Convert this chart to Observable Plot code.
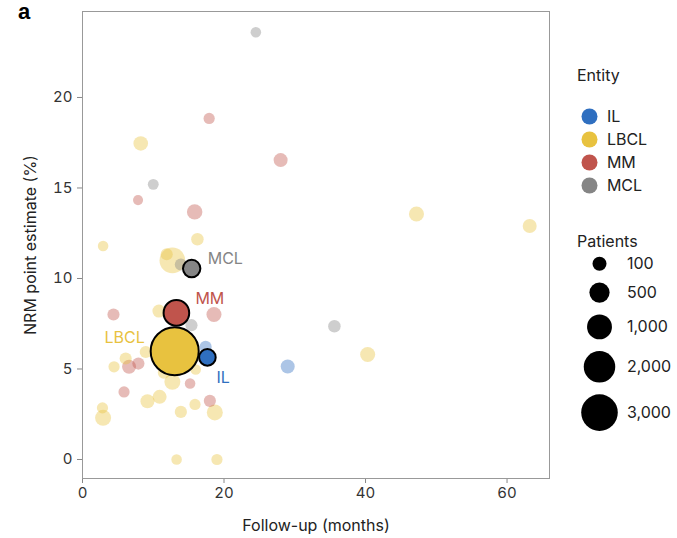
<!DOCTYPE html>
<html><head><meta charset="utf-8">
<script src="https://cdn.jsdelivr.net/npm/d3@7"></script>
<script src="https://cdn.jsdelivr.net/npm/@observablehq/plot@0.6"></script>
<style>
body{margin:0;background:#fff;font-family:Inter, "DejaVu Sans", sans-serif;}
#wrap{position:relative;width:677px;height:538px;overflow:hidden;}
#main{position:absolute;left:0;top:0;}
.leg{position:absolute;left:560px;top:0;}
.ttl{position:absolute;left:577px;font-size:16px;color:#222;line-height:18px;}
#tag{position:absolute;left:18px;top:0px;font:bold 22px "Liberation Sans", Arial, sans-serif;color:#000;line-height:24px;}
#main g[aria-label="x-axis label"], #main g[aria-label="y-axis label"]{font-size:16px;fill:#222;}
</style></head><body>
<div id="wrap">
  <div id="main"></div>
  <div id="legC" class="leg"></div>
  <div id="legS" class="leg"></div>
  <div class="ttl" style="top:66px">Entity</div>
  <div class="ttl" style="top:232px">Patients</div>
  <div id="tag">a</div>
</div>
<script>
// ---- data ----
const entities = ["IL", "LBCL", "MM", "MCL"];
const entityColors = ["#2f6fc0", "#e8c23f", "#c0544c", "#858585"];

// individual studies (faded)
const lbclFollowUp = [8.23, 2.91, 11.9, 12.7, 16.24, 47.2, 63.2, 40.3, 10.8, 8.94, 6.1, 4.46, 12.7, 16.0, 9.18, 10.9, 2.82, 2.91, 13.9, 15.9, 18.7, 13.3, 19.0, 11.5];
const lbclNRM      = [17.46, 11.8, 11.34, 11.0, 12.17, 13.56, 12.9, 5.8, 8.2, 5.94, 5.58, 5.12, 4.29, 4.97, 3.22, 3.46, 2.85, 2.3, 2.63, 3.04, 2.6, 0, 0, 4.8];
const lbclPatients = [125, 10, 40, 1100, 50, 145, 100, 145, 65, 40, 40, 20, 195, 10, 100, 100, 20, 195, 40, 20, 195, 10, 20, 40];

const mmFollowUp = [17.9, 7.85, 15.85, 28.0, 4.38, 18.58, 6.58, 7.9, 15.2, 5.87, 18.0];
const mmNRM      = [18.84, 14.33, 13.68, 16.54, 8.01, 8.01, 5.12, 5.3, 4.2, 3.73, 3.24];
const mmPatients = [20, 5, 165, 100, 40, 145, 100, 40, 10, 20, 40];

const mclFollowUp = [24.5, 10.0, 13.9, 35.6, 15.4];
const mclNRM      = [23.6, 15.2, 10.77, 7.36, 7.42];
const mclPatients = [10, 15, 40, 50, 40];

const ilFollowUp = [29.0, 17.4];
const ilNRM      = [5.14, 6.22];
const ilPatients = [100, 40];

// pooled estimates (highlighted)
const pooledEntity   = ["MCL", "MM", "LBCL", "IL"];
const pooledFollowUp = [15.43, 13.27, 13.03, 17.65];
const pooledNRM      = [10.55, 8.1, 5.98, 5.64];
const pooledPatients = [280, 1090, 6000, 230];

const patientTicks = [100, 500, 1000, 2000, 3000];
const xTicks = [0, 20, 40, 60];
const yTicks = [0, 5, 10, 15, 20];

// ---- tables ----
function rows(entity, xs, ys, ns) { return xs.map((x, i) => ({entity, followUp: x, nrm: ys[i], patients: ns[i]})); }
const studies = [
  ...rows("LBCL", lbclFollowUp, lbclNRM, lbclPatients),
  ...rows("MM", mmFollowUp, mmNRM, mmPatients),
  ...rows("MCL", mclFollowUp, mclNRM, mclPatients),
  ...rows("IL", ilFollowUp, ilNRM, ilPatients)
];
const pooled = pooledEntity.map((e, i) => ({entity: e, followUp: pooledFollowUp[i], nrm: pooledNRM[i], patients: pooledPatients[i]}));

const colorScale = {domain: entities, range: entityColors};
const rScale = {type: "sqrt", domain: [100, 3000], range: [7, 18.3]};

const labelStyle = {
  MCL: {dx: 16, dy: -10, textAnchor: "start"},
  MM: {dx: 19, dy: -14, textAnchor: "start"},
  LBCL: {dx: -30, dy: -13.5, textAnchor: "end"},
  IL: {dx: 9, dy: 20, textAnchor: "start"}
};
const labelMarks = pooledEntity.map((e, i) => Plot.text(pooled.filter(d => d.entity === e), {
  x: "followUp", y: "nrm", text: "entity", fill: entityColors[entities.indexOf(e)],
  fontSize: 16, ...labelStyle[e]
}));

const main = Plot.plot({
  width: 560, height: 538,
  marginLeft: 82, marginRight: 11, marginTop: 11, marginBottom: 60,
  style: {fontFamily: "Inter, 'DejaVu Sans', sans-serif", fontSize: "15px", color: "#222", background: "white"},
  x: {domain: [0, 66]},
  y: {domain: [-1.05, 24.75]},
  color: colorScale,
  r: rScale,
  marks: [
    Plot.axisX({ticks: xTicks, tickSize: 5, tickPadding: 4, stroke: "#888", fill: "#333", fontSize: 15,
      label: "Follow-up (months)", labelAnchor: "center", labelOffset: 52, labelArrow: "none"}),
    Plot.axisY({ticks: yTicks, tickSize: 5, tickPadding: 5, stroke: "#888", fill: "#333", fontSize: 15,
      label: "NRM point estimate (%)", labelAnchor: "center", labelOffset: 58, labelArrow: "none"}),
    Plot.frame({stroke: "#999"}),
    Plot.dot(studies, {x: "followUp", y: "nrm", r: "patients", fill: "entity", fillOpacity: 0.4}),
    Plot.dot(pooled, {x: "followUp", y: "nrm", r: "patients", fill: "entity", stroke: "black", strokeWidth: 2}),
    ...labelMarks
  ]
});
document.getElementById("main").appendChild(main);

// ---- legends ----
const legC = Plot.plot({
  width: 117, height: 538, margin: 0,
  style: {fontFamily: "Inter, 'DejaVu Sans', sans-serif", fontSize: "16px", color: "#222", background: "transparent"},
  x: {type: "point", domain: ["key"], range: [29.3, 29.3], axis: null},
  y: {type: "point", domain: entities, range: [104.3, 196.7], axis: null},
  color: colorScale,
  marks: [
    Plot.dot(entities, {x: () => "key", y: d => d, fill: d => d, r: 8}),
    Plot.text(entities, {x: () => "key", y: d => d, text: d => d, dx: 17.4, textAnchor: "start", fontSize: 16, fill: "#222"})
  ]
});
document.getElementById("legC").appendChild(legC);

const rs = Plot.scale({r: rScale});
let acc = 0, prevR = 0;
const sizeKeys = patientTicks.map((p, i) => {
  const r = rs.apply(p);
  if (i > 0) acc += prevR + r + 11.7;
  prevR = r;
  return {p, off: acc};
});
const legS = Plot.plot({
  width: 117, height: 538, margin: 0,
  style: {fontFamily: "Inter, 'DejaVu Sans', sans-serif", fontSize: "16px", color: "#222", background: "transparent"},
  x: {type: "point", domain: ["key"], range: [39.3, 39.3], axis: null},
  y: {type: "linear", domain: [0, 1], range: [263.3, 264.3], axis: null},
  r: rScale,
  marks: [
    Plot.dot(sizeKeys, {x: () => "key", y: "off", r: "p", fill: "black"}),
    Plot.text(sizeKeys, {x: () => "key", y: "off", text: d => d3.format(",")(d.p), dx: 27.4, textAnchor: "start", fontSize: 16, fill: "#222"})
  ]
});
document.getElementById("legS").appendChild(legS);
</script>
</body></html>
